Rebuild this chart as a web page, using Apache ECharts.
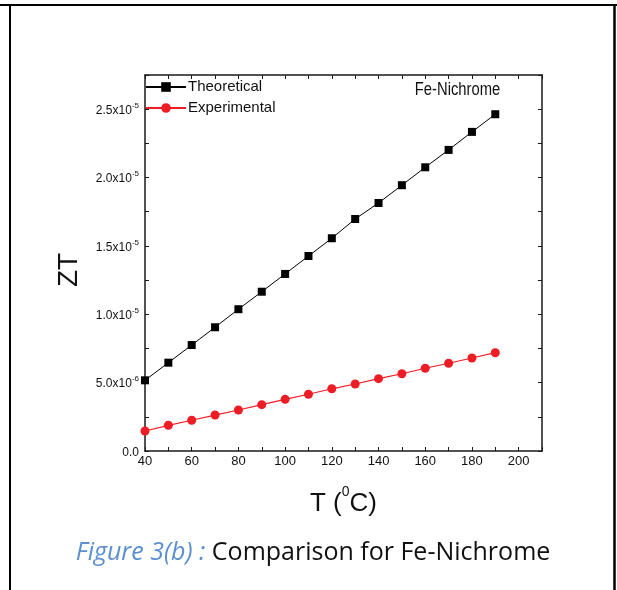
<!DOCTYPE html>
<html><head><meta charset="utf-8">
<script src="https://cdn.jsdelivr.net/npm/echarts@6/dist/echarts.min.js"></script>
<style>html,body{margin:0;padding:0;background:#fff}#c{width:617px;height:590px}</style>
</head><body><div id="c"></div>
<script>
// ---- data ----
const temperatures = [40, 50, 60, 70, 80, 90, 100, 110, 120, 130, 140, 150, 160, 170, 180, 190];
const theoretical = [5.17e-6, 6.46e-6, 7.75e-6, 9.05e-6, 1.037e-5, 1.165e-5, 1.295e-5, 1.426e-5,
  1.556e-5, 1.697e-5, 1.814e-5, 1.944e-5, 2.075e-5, 2.202e-5, 2.334e-5, 2.463e-5];
const experimental = [1.46e-6, 1.88e-6, 2.25e-6, 2.63e-6, 3.00e-6, 3.39e-6, 3.78e-6, 4.15e-6,
  4.55e-6, 4.90e-6, 5.29e-6, 5.65e-6, 6.05e-6, 6.42e-6, 6.80e-6, 7.19e-6];
const seriesNames = ['Theoretical', 'Experimental'];
const xTickLabels = [40, 60, 80, 100, 120, 140, 160, 180, 200];
const yTickValues = [0, 5e-6, 1e-5, 1.5e-5, 2e-5, 2.5e-5];
const yTickMantissa = ['0.0', '5.0', '1.0', '1.5', '2.0', '2.5'];
const yTickExponent = ['', '-6', '-5', '-5', '-5', '-5'];

const SANS = "'Liberation Sans', Arial, sans-serif";
const AX = '#1a1a1a';

const chart = echarts.init(document.getElementById('c'), null, {renderer: 'canvas'});

function yLabel(v) {
  for (let i = 0; i < yTickValues.length; i++) {
    if (Math.abs(v - yTickValues[i]) < 1e-10) {
      return yTickExponent[i] ? '{m|' + yTickMantissa[i] + 'x10}{s|' + yTickExponent[i] + '}' : '{m|' + yTickMantissa[i] + '}';
    }
  }
  return '';
}
function xLabel(v) {
  return xTickLabels.indexOf(Math.round(v)) >= 0 && Math.abs(v - Math.round(v)) < 1e-9 ? String(Math.round(v)) : '';
}

const axisCommon = {
  axisLine: {show: true, onZero: false, lineStyle: {color: AX, width: 1.5}},
  axisTick: {show: true, inside: true, length: 4, lineStyle: {color: AX, width: 1}},
  splitLine: {show: false}
};

chart.setOption({
  animation: false,
  backgroundColor: '#fff',
  grid: {left: 145, right: 75, top: 75, bottom: 139, containLabel: false},
  legend: {
    orient: 'vertical', left: 145, top: 76, padding: 0,
    itemWidth: 40, itemHeight: 12, itemGap: -1,
    data: seriesNames,
    textStyle: {fontFamily: SANS, fontSize: 15, color: '#111', lineHeight: 22, padding: [0, 0, 0, -3]}
  },
  xAxis: [
    Object.assign({}, axisCommon, {
      type: 'value', min: 40, max: 210, interval: 10, position: 'bottom',
      axisLabel: {formatter: xLabel, fontFamily: SANS, fontSize: 13, color: '#111', margin: 4},
      name: '{a|T (}{s|0}{a|C)}', nameLocation: 'middle', nameGap: 34,
      nameTextStyle: {rich: {
        a: {fontFamily: SANS, fontSize: 26, color: '#111', lineHeight: 32, verticalAlign: 'bottom'},
        s: {fontFamily: SANS, fontSize: 14, color: '#111', lineHeight: 32, verticalAlign: 'top'}
      }}
    }),
    Object.assign({}, axisCommon, {
      type: 'value', min: 40, max: 210, interval: 10, position: 'top',
      axisLabel: {show: false}
    })
  ],
  yAxis: [
    Object.assign({}, axisCommon, {
      type: 'value', min: 0, max: 2.75e-5, interval: 2.5e-6, position: 'left',
      axisLabel: {formatter: yLabel, margin: 6, rich: {
        m: {fontFamily: SANS, fontSize: 12, color: '#111', lineHeight: 15, verticalAlign: 'bottom'},
        s: {fontFamily: SANS, fontSize: 8, color: '#111', lineHeight: 15, verticalAlign: 'top'}
      }},
      name: 'ZT', nameLocation: 'middle', nameGap: 62,
      nameTextStyle: {fontFamily: SANS, fontSize: 28, color: '#111', padding: [0, 14, 0, 0]}
    }),
    Object.assign({}, axisCommon, {
      type: 'value', min: 0, max: 2.75e-5, interval: 2.5e-6, position: 'right',
      axisLabel: {show: false}
    })
  ],
  series: [
    {
      name: seriesNames[0], type: 'line', xAxisIndex: 0, yAxisIndex: 0,
      data: temperatures.map((t, i) => [t, theoretical[i]]),
      symbol: 'rect', symbolSize: 8,
      itemStyle: {color: '#000'},
      lineStyle: {color: '#000', width: 1}
    },
    {
      name: seriesNames[1], type: 'line', xAxisIndex: 0, yAxisIndex: 0,
      data: temperatures.map((t, i) => [t, experimental[i]]),
      symbol: 'circle', symbolSize: 9,
      itemStyle: {color: '#ee1c25'},
      lineStyle: {color: '#ee1c25', width: 1.2}
    }
  ],
  graphic: [
    {type: 'line', shape: {x1: 0, y1: 5, x2: 617, y2: 5}, style: {stroke: '#000', lineWidth: 2}, silent: true},
    {type: 'line', shape: {x1: 10, y1: 5, x2: 10, y2: 590}, style: {stroke: '#000', lineWidth: 2}, silent: true},
    {type: 'line', shape: {x1: 614.5, y1: 5, x2: 614.5, y2: 590}, style: {stroke: '#000', lineWidth: 2.5}, silent: true},
    {type: 'text', x: 457.5, y: 90, scaleX: 0.82, style: {text: 'Fe-Nichrome', fontFamily: SANS, fontSize: 18, fill: '#111', align: 'center', verticalAlign: 'middle'}, silent: true},
    {type: 'text', x: 313, y: 553, silent: true, style: {
      text: '{f|Figure 3(b) : }{c|Comparison for Fe-Nichrome}', align: 'center', verticalAlign: 'middle',
      rich: {
        f: {fontFamily: "'Open Sans', 'Liberation Sans', sans-serif", fontStyle: 'italic', fontSize: 25, fill: '#5b8fd0', color: '#5b8fd0'},
        c: {fontFamily: "'Open Sans', 'Liberation Sans', sans-serif", fontSize: 25, fill: '#111', color: '#111'}
      }
    }}
  ]
});
</script>
</body></html>
